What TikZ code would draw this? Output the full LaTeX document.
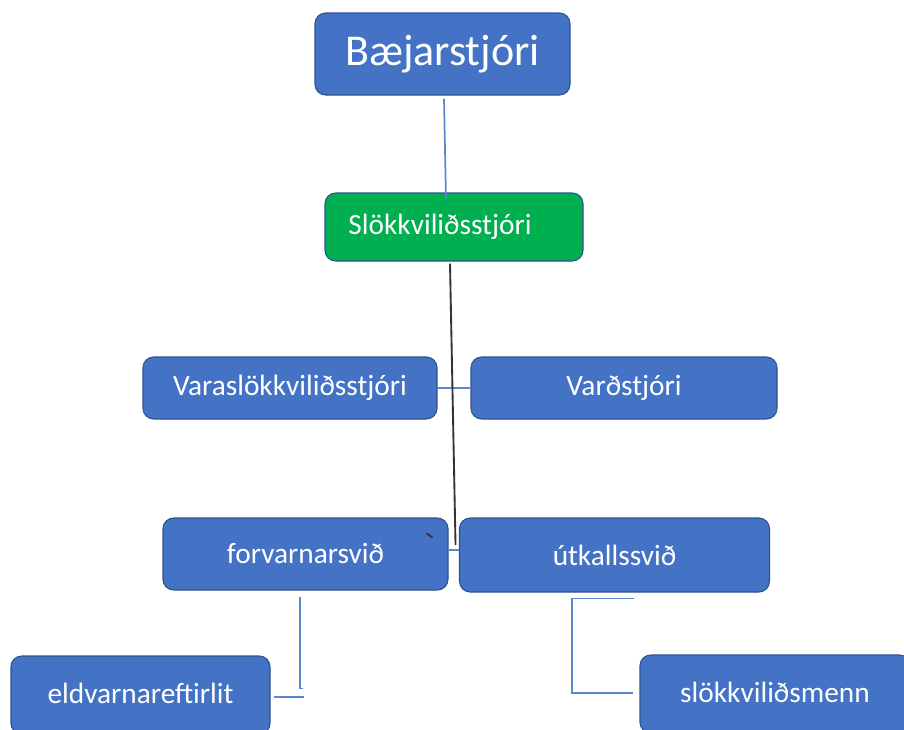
\documentclass[tikz,border=0pt]{standalone}
\usepackage{fontspec}
\setmainfont{Carlito}
\usetikzlibrary{calc}
\definecolor{boxblue}{HTML}{4472C4}
\definecolor{boxedge}{HTML}{2F528F}
\definecolor{boxgreen}{HTML}{00B050}
\definecolor{linkblue}{HTML}{5A87D0}
\begin{document}
\begin{tikzpicture}[x=0.75pt,y=-0.75pt,
  box/.style={draw=boxedge,line width=0.8pt,fill=boxblue,rounded corners=8pt,text=white,
    font=\fontsize{22}{26}\selectfont,inner sep=0pt},
  link/.style={draw=linkblue,line width=1.3pt},
  spine/.style={draw=black!80,line width=1.4pt}]
\useasboundingbox (0,0) rectangle (904,729);
\clip (0,0) rectangle (904,729);
\node[box,minimum width=255*0.75pt,minimum height=82*0.75pt,font=\fontsize{33}{38}\selectfont] (b) at (442.5,54) {Bæjarstjóri};
\node[box,fill=boxgreen,minimum width=258*0.75pt,minimum height=68*0.75pt] (s) at (454,227) {Slökkviliðsstjóri\hspace*{21pt}};
\node[box,minimum width=294*0.75pt,minimum height=62*0.75pt] (v) at (290,388) {Varaslökkviliðsstjóri};
\node[box,minimum width=306*0.75pt,minimum height=62*0.75pt] (d) at (624,388) {Varðstjóri};
\node[box,minimum width=285*0.75pt,minimum height=72*0.75pt] (f) at (305.5,554) {forvarnarsvið};
\node[box,minimum width=310*0.75pt,minimum height=74*0.75pt] (u) at (614.5,555) {útkallssvið};
\node[box,minimum width=259*0.75pt,minimum height=78*0.75pt] (e) at (140.5,695) {\raisebox{3pt}{eldvarnareftirlit}};
\node[box,minimum width=270*0.75pt,minimum height=78*0.75pt] (m) at (775,694) {\raisebox{3pt}{slökkviliðsmenn}};
% connectors
\draw[link] ($(b.south)+(1.5,3)$) -- ($(s.north)+(-8,7)$);
\draw[link] (v.east) -- (d.west);
\draw[link] ($(f.east)+(0,-4)$) -- ($(u.west)+(0,-5)$);
\draw[spine] ($(s.south)+(-4,2)$) -- ($(f.east)+(7,-9)$);
\draw[spine] ($(f.north east)+(-22,16)$) -- ++(6,4);
\coordinate (ftop) at ($(f.south)+(-5.5,6)$);
\draw[link] (ftop) -- ++(0,92) -- ++(3,0);
\coordinate (ejoin) at ($(e.east)+(3,2)$);
\draw[link] (ejoin) -- ++(30,0);
\coordinate (utop) at ($(u.south)+(19.5,6)$);
\draw[link] (utop) -- ++(-62,0) |- ($(m.west)+(-6,-1)$);
\end{tikzpicture}
\end{document}
